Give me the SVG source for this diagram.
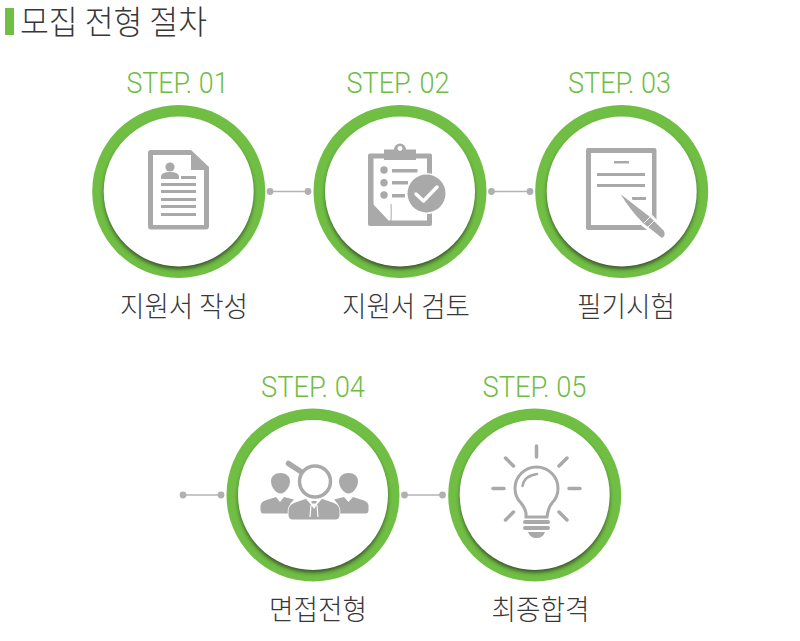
<svg xmlns="http://www.w3.org/2000/svg" width="800" height="641" viewBox="0 0 800 641">
<style>
.step{font-family:Roboto,"Liberation Sans",sans-serif;font-weight:300;font-size:30px;fill:#6fbd45;text-anchor:middle}
.lab{font-family:"Noto Sans CJK KR",sans-serif;font-size:28px;font-weight:300;fill:#383838;text-anchor:middle}
.i{fill:#a9a9a9}
.s{fill:none;stroke:#a9a9a9}
.w{fill:#fff}
.c{stroke:#b4b4b4;stroke-width:1.3}
.d{fill:#b0b0b0}
</style>
<defs>
<filter id="b" x="-20%" y="-20%" width="140%" height="140%"><feGaussianBlur stdDeviation="2"/></filter>
<clipPath id="clip"><circle r="86.5"/></clipPath>
<g id="ring">
<circle r="86.5" fill="#70bf44"/>
<g clip-path="url(#clip)"><circle cy="3" r="74.500" fill="#2d3a25" fill-opacity=".85" filter="url(#b)"/></g>
<circle r="75" fill="#fff"/>
</g>
</defs>
<rect width="800" height="641" fill="#fff"/>
<g id="title">
<rect x="5" y="8" width="9" height="27" fill="#70bf44"/>
<text x="20" y="34" font-family="'Noto Sans CJK KR',sans-serif" font-weight="300" font-size="33" fill="#383838" textLength="187" lengthAdjust="spacingAndGlyphs">모집 전형 절차</text>
</g>
<g id="connectors">
<g id="c1"><line class="c" x1="270" y1="191.500" x2="308" y2="191.500"/><circle class="d" cx="270" cy="191.500" r="3.400"/><circle class="d" cx="308" cy="191.500" r="3.400"/></g>
<g id="c2"><line class="c" x1="491.500" y1="191.500" x2="530" y2="191.500"/><circle class="d" cx="491.500" cy="191.500" r="3.400"/><circle class="d" cx="530" cy="191.500" r="3.400"/></g>
<g id="c3"><line class="c" x1="183" y1="495" x2="221" y2="495"/><circle class="d" cx="183" cy="495" r="3.400"/><circle class="d" cx="221" cy="495" r="3.400"/></g>
<g id="c4"><line class="c" x1="404.500" y1="495" x2="442.500" y2="495"/><circle class="d" cx="404.500" cy="495" r="3.400"/><circle class="d" cx="442.500" cy="495" r="3.400"/></g>
</g>
<g id="step1">
<text class="step" x="177.500" y="93" textLength="102" lengthAdjust="spacingAndGlyphs">STEP. 01</text>
<use href="#ring" x="178.700" y="191.500"/>
<path class="i" fill-rule="evenodd" d="M151 150H191L209 167V226Q209 229.500 206 229.500H151Q148 229.500 148 226V153Q148 150 151 150ZM153 155V225H204V170H191V155Z"/>
<path class="i" d="M191 151L208 168H194Q191 168 191 165Z"/>
<circle class="i" cx="170" cy="167" r="4.600"/>
<path class="i" d="M161 179V176Q162 172 170 172Q178 172 179 176V179Z"/>
<path class="i" d="M181 176h15v3h-15zM161 183h35v3h-35zM161 190h35v3h-35zM161 198h35v3h-35zM161 205h35v3h-35zM161 213h35v3h-35z"/>
<text class="lab" x="184" y="317" textLength="128" lengthAdjust="spacingAndGlyphs">지원서 작성</text>
</g>
<g id="step2">
<text class="step" x="398" y="93" textLength="103" lengthAdjust="spacingAndGlyphs">STEP. 02</text>
<use href="#ring" x="400" y="191.500"/>
<path class="i" fill-rule="evenodd" d="M370 153.500H430Q432 153.500 432 155.500V224Q432 226 430 226H370Q368 226 368 224V155.500Q368 153.500 370 153.500ZM373.500 158.500V220.500H427V158.500Z"/>
<path class="i" d="M384 149.500H394A6 6 0 0 1 406 149.500H416V160H384Z"/>
<circle class="w" cx="400" cy="148.500" r="2.400"/>
<circle class="i" cx="384" cy="170" r="3.700"/><circle class="i" cx="384" cy="182.700" r="3.700"/><circle class="i" cx="384" cy="195" r="3.700"/>
<path class="i" d="M392 169h25.500v3.500h-25.500zM392 181h16v3.500h-16zM392 194h13v3.500h-13z"/>
<path class="i" d="M373 204L389 221H373Z"/>
<path class="s" stroke-width="1" d="M391 204Q391.500 213 391 221"/>
<circle class="w" cx="426.500" cy="193.500" r="20.500"/>
<circle class="i" cx="426.500" cy="193.500" r="19"/>
<path fill="none" stroke="#fff" stroke-width="3.500" stroke-linecap="round" stroke-linejoin="round" d="M416 194L423.500 201L437 187"/>
<text class="lab" x="406" y="317" textLength="128" lengthAdjust="spacingAndGlyphs">지원서 검토</text>
</g>
<g id="step3">
<text class="step" x="619.500" y="93" textLength="103" lengthAdjust="spacingAndGlyphs">STEP. 03</text>
<use href="#ring" x="621.700" y="191.500"/>
<path class="i" fill-rule="evenodd" d="M588 148H654.500Q656.500 148 656.500 150V228Q656.500 230 654.500 230H588Q586 230 586 228V150Q586 148 588 148ZM591 153V225H652V153Z"/>
<path class="i" d="M614 161h15v2.500h-15zM597 173h48v3h-48zM597 184h48v3h-48zM632 197h14v3h-14z"/>
<path d="M620.700 194.300L650 217L664 231Q666 236 662 238L643 223Q630 210 620.700 194.300Z" fill="#a9a9a9" stroke="#fff" stroke-width="6" stroke-linejoin="round" paint-order="stroke"/>
<path d="M650 217L644 223M654 221L648 227" stroke="#fff" stroke-width="1" fill="none"/>
<text class="lab" x="626" y="317" textLength="98" lengthAdjust="spacingAndGlyphs">필기시험</text>
</g>
<g id="step4">
<text class="step" x="313" y="397" textLength="104" lengthAdjust="spacingAndGlyphs">STEP. 04</text>
<use href="#ring" x="313" y="495"/>
<path class="i" d="M260.500 510V505.500Q261 502 265 500.500L276 497L280 502L284 497L294 499.500L290 504V513.500H263.500Q260.500 513.500 260.500 510ZM338 513.500V504L334 499.500L344 497L348.500 502L353 497L364 500.500Q368 502 368.500 505.500V510Q368.500 513.500 365.500 513.500Z"/>
<path class="i" d="M271 481.500C271 476 275 473 280.500 473C286 473 290 476 290 481.500C290 487 285 493.500 280.500 493.500C276 493.500 271 487 271 481.500Z"/>
<path class="i" d="M339 481.500C339 476 343 473 348.500 473C354 473 358 476 358 481.500C358 487 353 493.500 348.500 493.500C344 493.500 339 487 339 481.500Z"/>
<path class="i" stroke="#fff" stroke-width="1.500" paint-order="stroke" d="M288.500 515V510Q289 505 294 503L307 498.500L314 509L321 498.500L334 503Q339 505 339.500 510V515Q339.500 519.500 335 519.500H293Q288.500 519.500 288.500 515Z"/>
<path class="i" d="M311.500 501h5l0 2.500h-5z"/>
<path fill="none" stroke="#fff" stroke-width="1.200" d="M306.500 498.500L311.500 504M321.500 498.500L316.500 504M311 505L310 517M317 505L318 517"/>
<line x1="288.500" y1="463.500" x2="301.500" y2="472" stroke="#a9a9a9" stroke-width="5.500" stroke-linecap="round"/>
<circle cx="315" cy="481.500" r="15.500" fill="#fff" stroke="#a9a9a9" stroke-width="3.500"/>
<text class="lab" x="318" y="620" textLength="98" lengthAdjust="spacingAndGlyphs">면접전형</text>
</g>
<g id="step5">
<text class="step" x="534.500" y="397" textLength="104" lengthAdjust="spacingAndGlyphs">STEP. 05</text>
<use href="#ring" x="534.700" y="495"/>
<path class="s" stroke-width="3.500" stroke-linecap="round" d="M536.500 446v11M505.500 458l8 8M567 458l-8 8M493 488.500h11M569 488.500h11M505.500 520l8-8M567 520l-8-8"/>
<path class="s" stroke-width="3" d="M526 517V513Q525 508 521 503Q515 497 515 488.500A21.500 21.500 0 0 1 558 488.500Q558 497 552 503Q548 508 547 517H526Z"/>
<path class="s" stroke-width="2.500" stroke-linecap="round" d="M522.500 486Q524 476 537 474"/>
<path class="i" d="M525 520h23q2 0 2 2t-2 2h-23q-2 0-2-2t2-2zM525 526h23q2 0 2 2t-2 2h-23q-2 0-2-2t2-2zM528 532h17q-2 6-8.500 6t-8.500-6z"/>
<text class="lab" x="540.500" y="620" textLength="98" lengthAdjust="spacingAndGlyphs">최종합격</text>
</g>
</svg>
